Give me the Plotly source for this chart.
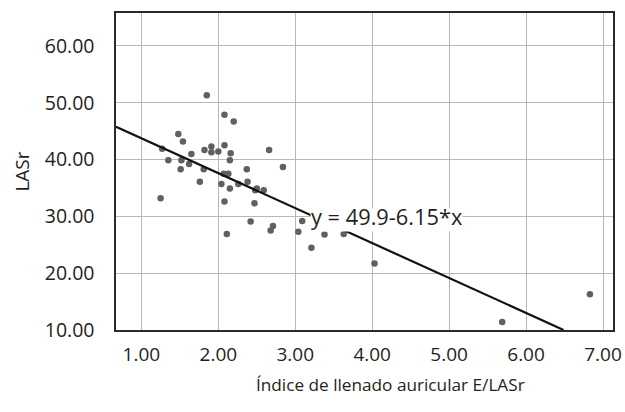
import plotly.graph_objects as go

# Data
x_vals = [1.85, 2.08, 2.20, 1.48, 1.54, 1.27, 1.65, 1.82, 1.91, 1.91, 2.00, 2.08,
          2.16, 2.15, 2.66, 1.35, 1.52, 1.51, 1.62, 1.81, 1.76, 2.07, 2.13, 2.04,
          2.15, 2.37, 2.84, 2.26, 2.38, 2.48, 2.50, 2.59, 1.25, 2.08, 2.47, 2.42,
          2.11, 2.71, 2.68, 3.04, 3.09, 3.21, 3.38, 3.63, 4.03, 5.69, 6.83]
y_vals = [51.3, 47.9, 46.7, 44.5, 43.2, 41.9, 41.0, 41.7, 42.3, 41.3, 41.4, 42.5,
          41.1, 39.9, 41.7, 39.9, 39.9, 38.3, 39.2, 38.3, 36.1, 37.5, 37.5, 35.7,
          34.9, 38.3, 38.7, 35.7, 36.1, 34.6, 34.9, 34.6, 33.2, 32.6, 32.3, 29.1,
          26.9, 28.3, 27.5, 27.3, 29.2, 24.5, 26.8, 26.9, 21.7, 11.4, 16.3]

intercept = 49.9
slope = -6.15
equation_label = "y = 49.9-6.15*x"

x_range = [0.67, 7.13]
y_range = [10, 65.8]
x_ticks = [1, 2, 3, 4, 5, 6, 7]
y_ticks = [10, 20, 30, 40, 50, 60]

x_title = "Índice de llenado auricular E/LASr"
y_title = "LASr"

# regression line from axis left edge to where it meets the bottom of the axis
line_x = [x_range[0], (y_range[0] - intercept) / slope]
line_y = [intercept + slope * v for v in line_x]

FONT = "Open Sans, Liberation Sans, Arial, sans-serif"
TXT = "#231f20"

fig = go.Figure()
fig.add_trace(go.Scatter(
    x=x_vals, y=y_vals, mode="markers",
    marker=dict(color="#606064", size=6.5, line=dict(width=0)),
    showlegend=False, hoverinfo="skip"))
fig.add_trace(go.Scatter(
    x=line_x, y=line_y, mode="lines",
    line=dict(color="#111111", width=2.2),
    showlegend=False, hoverinfo="skip"))

fig.add_annotation(
    x=4.19, y=29.38, xref="x", yref="y",
    text=equation_label, showarrow=False,
    font=dict(family=FONT, size=21.8, color=TXT),
    bgcolor="white", borderpad=0, height=22, valign="bottom")

# x-axis title (placed as an annotation so it can sit right of centre, as in the reference)
fig.add_annotation(
    x=0.553, y=-0.172, xref="paper", yref="paper",
    xanchor="center", yanchor="middle",
    text=x_title, showarrow=False,
    font=dict(family=FONT, size=17.2, color=TXT))

fig.update_layout(
    width=625, height=412,
    margin=dict(l=116, r=12, t=13, b=82, autoexpand=False),
    paper_bgcolor="white", plot_bgcolor="white",
    font=dict(family=FONT, color=TXT),
    showlegend=False,
)
fig.update_xaxes(
    range=x_range, tickvals=x_ticks, tickformat=".2f",
    showgrid=True, gridcolor="#b8b8b8", gridwidth=1, zeroline=False,
    showline=True, linecolor="#2a2a2a", linewidth=1.6, mirror=True,
    ticks="outside", ticklen=7, tickcolor="rgba(0,0,0,0)",
    tickfont=dict(family=FONT, size=19, color=TXT),
)
fig.update_yaxes(
    range=y_range, tickvals=y_ticks, tickformat=".2f",
    showgrid=True, gridcolor="#b8b8b8", gridwidth=1, zeroline=False,
    showline=True, linecolor="#2a2a2a", linewidth=1.6, mirror=True,
    ticks="outside", ticklen=16, tickcolor="rgba(0,0,0,0)",
    tickfont=dict(family=FONT, size=19.5, color=TXT),
    title=dict(text=y_title, font=dict(family=FONT, size=19, color=TXT), standoff=10),
)

page_css = ("document.body.style.margin='0px';"
            "document.body.style.padding='0px';"
            "document.body.style.overflow='hidden';"
            "document.documentElement.style.overflow='hidden';")

fig.write_html("out.html", post_script=page_css,
               config={"displayModeBar": False, "staticPlot": True})
